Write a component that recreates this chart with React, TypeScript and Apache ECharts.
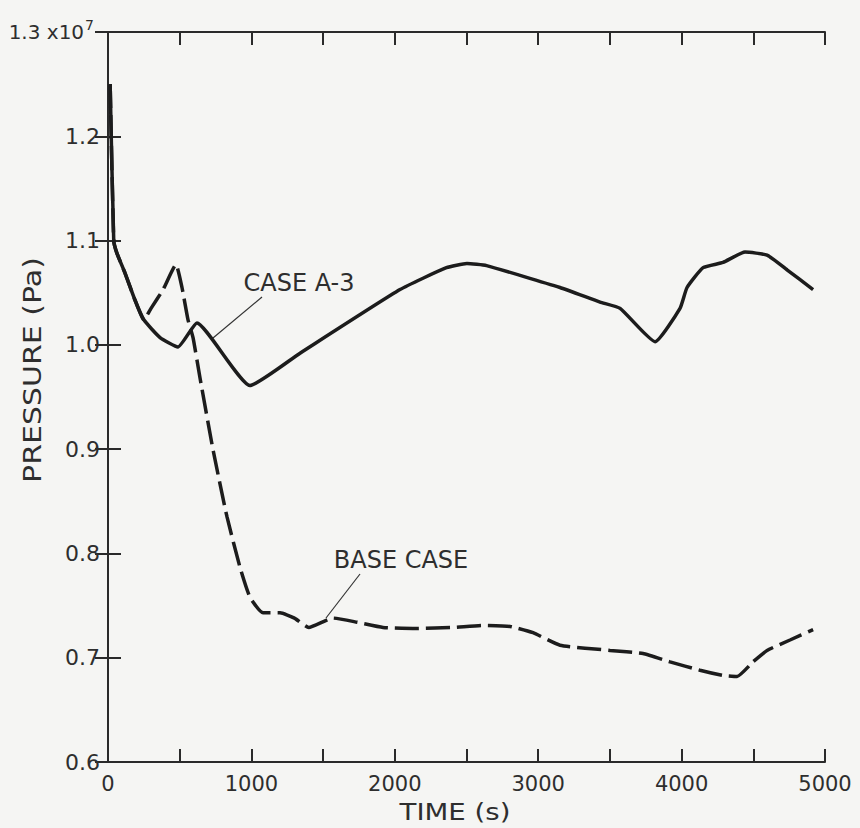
import { useEffect, useRef } from "react";
import * as echarts from "echarts";

// Time (s) and pressure (x 10^7 Pa) for the two transients
const caseA3Time = [15, 40, 62, 118, 188, 250, 363, 488, 620, 990, 1339, 2036, 2360, 2503, 2640, 3152, 3431, 3571, 3815, 3989, 4038, 4150, 4289, 4442, 4596, 4735, 4917];
const caseA3Pressure = [1.25, 1.1, 1.088, 1.069, 1.043, 1.024, 1.007, 0.998, 1.021, 0.961, 0.992, 1.053, 1.074, 1.078, 1.076, 1.055, 1.041, 1.035, 1.003, 1.035, 1.055, 1.074, 1.079, 1.089, 1.086, 1.072, 1.053];

const baseCaseTime = [15, 40, 62, 118, 188, 250, 300, 384, 474, 516, 558, 593, 642, 733, 830, 920, 990, 1081, 1200, 1300, 1400, 1569, 1737, 1918, 2155, 2406, 2615, 2804, 2964, 3152, 3501, 3731, 3919, 4128, 4289, 4387, 4498, 4596, 4756, 4917];
const baseCasePressure = [1.25, 1.1, 1.088, 1.069, 1.043, 1.024, 1.035, 1.053, 1.077, 1.055, 1.024, 1.007, 0.968, 0.899, 0.835, 0.787, 0.758, 0.743, 0.743, 0.738, 0.729, 0.738, 0.734, 0.729, 0.728, 0.729, 0.731, 0.730, 0.724, 0.712, 0.707, 0.704, 0.696, 0.688, 0.683, 0.682, 0.696, 0.707, 0.717, 0.727];

const xMin = 0;
const xMax = 5000;
const xStep = 500;
const xLabelStep = 1000;
const yMin = 0.6;
const yMax = 1.3;
const yStep = 0.1;

const FONT = '"DejaVu Sans", sans-serif';
const INK = "#1c1c1c";
const TEXT = "#2e2e2e";

const pairs = (xs: number[], ys: number[]) => xs.map((x, i) => [x, ys[i]]);

export default function App() {
  const ref = useRef<HTMLDivElement>(null);

  useEffect(() => {
    if (!ref.current) return;
    const chart = echarts.init(ref.current, null, { renderer: "svg" });

    const axisLine = { show: true, lineStyle: { color: "#2a2a2a", width: 2 } };
    const tick = { show: true, inside: true, length: 13, lineStyle: { color: "#2a2a2a", width: 2 } };

    chart.setOption({
      animation: false,
      backgroundColor: "#f5f5f3",
      grid: { left: 108, right: 35, top: 32, bottom: 66, containLabel: false },
      xAxis: [
        {
          type: "value",
          position: "bottom",
          min: xMin,
          max: xMax,
          interval: xStep,
          axisLine,
          axisTick: tick,
          splitLine: { show: false },
          axisLabel: {
            margin: 11,
            fontSize: 21,
            fontFamily: FONT,
            color: TEXT,
            formatter: (v: number) => (v % xLabelStep === 0 ? String(v) : ""),
          },
        },
        {
          type: "value",
          position: "top",
          min: xMin,
          max: xMax,
          interval: xStep,
          axisLine,
          axisTick: tick,
          splitLine: { show: false },
          axisLabel: { show: false },
        },
      ],
      yAxis: [
        {
          type: "value",
          position: "left",
          min: yMin,
          max: yMax,
          interval: yStep,
          axisLine,
          axisTick: tick,
          splitLine: { show: false },
          axisLabel: {
            margin: 8,
            fontSize: 22,
            fontFamily: FONT,
            color: TEXT,
            formatter: (v: number) =>
              Math.abs(v - yMax) < 1e-6 ? "{m|1.3 x10}{s|7}" : v.toFixed(1),
            rich: {
              m: { fontSize: 20, fontFamily: FONT, color: TEXT },
              s: { fontSize: 14, fontFamily: FONT, color: TEXT, padding: [0, 6, 14, 1] },
            },
          },
        },
        {
          type: "value",
          position: "right",
          min: yMin,
          max: yMax,
          interval: yStep,
          axisLine,
          axisTick: tick,
          splitLine: { show: false },
          axisLabel: { show: false },
        },
      ],
      series: [
        {
          name: "CASE A-3",
          type: "line",
          data: pairs(caseA3Time, caseA3Pressure),
          showSymbol: false,
          smooth: 0.15,
          lineStyle: { color: INK, width: 3.5, type: "solid" },
          z: 3,
        },
        {
          name: "BASE CASE",
          type: "line",
          data: pairs(baseCaseTime, baseCasePressure),
          showSymbol: false,
          smooth: 0.15,
          lineStyle: { color: INK, width: 3.5, type: [24, 7] },
          z: 2,
        },
      ],
      graphic: [
        {
          type: "text",
          x: 32,
          y: 370,
          rotation: Math.PI / 2,
          scaleX: 1.2,
          style: {
            text: "PRESSURE (Pa)",
            font: `25px ${FONT}`,
            fill: TEXT,
            align: "center",
            verticalAlign: "middle",
          },
        },
        {
          type: "text",
          x: 455,
          y: 812,
          scaleX: 1.2,
          style: {
            text: "TIME (s)",
            font: `23px ${FONT}`,
            fill: TEXT,
            align: "center",
            verticalAlign: "middle",
          },
        },
        {
          type: "text",
          x: 299,
          y: 283,
          style: {
            text: "CASE A-3",
            font: `24px ${FONT}`,
            fill: TEXT,
            align: "center",
            verticalAlign: "middle",
          },
        },
        {
          type: "line",
          shape: { x1: 213, y1: 338, x2: 262, y2: 297 },
          style: { stroke: "#333", lineWidth: 1.2 },
        },
        {
          type: "text",
          x: 401,
          y: 560,
          style: {
            text: "BASE CASE",
            font: `24px ${FONT}`,
            fill: TEXT,
            align: "center",
            verticalAlign: "middle",
          },
        },
        {
          type: "line",
          shape: { x1: 326, y1: 618, x2: 360, y2: 574 },
          style: { stroke: "#333", lineWidth: 1.2 },
        },
      ],
    });

    return () => chart.dispose();
  }, []);

  return (
    <div
      ref={ref}
      style={{ position: "absolute", left: 0, top: 0, width: 860, height: 828 }}
    />
  );
}
